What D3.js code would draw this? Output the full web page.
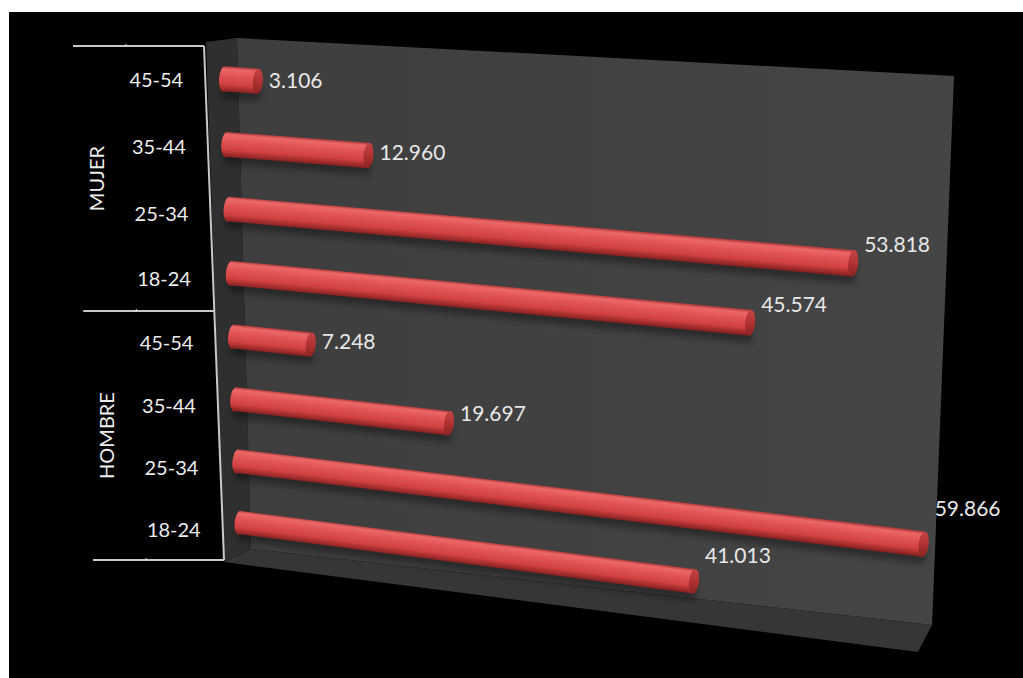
<!DOCTYPE html>
<html><head><meta charset="utf-8">
<script src="https://cdn.jsdelivr.net/npm/d3@7"></script>
<style>html,body{margin:0;padding:0;background:#fff;overflow:hidden}text{font-family:Lato,"Open Sans",sans-serif}</style>
</head><body><svg id="c"></svg>
<script>
// ---- data ----
const groups = ["MUJER", "HOMBRE"];
const ageGroups = ["45-54", "35-44", "25-34", "18-24"];
const mujerValues = [3106, 12960, 53818, 45574];
const hombreValues = [7248, 19697, 59866, 41013];
const valueMax = 60000;

// ---- layout ----
const W = 1023, H = 678;
const svg = d3.select("#c").attr("width", W).attr("height", H);
const defs = svg.append("defs");

const rows = [];
groups.forEach((g, gi) => {
  const vals = gi === 0 ? mujerValues : hombreValues;
  ageGroups.forEach((a, ai) => rows.push({ group: g, age: a, value: vals[ai], key: g + "|" + a }));
});

const fmt = d3.formatLocale({ decimal: ",", thousands: ".", grouping: [3], currency: ["", "€"] }).format(",d");

const xScale = d3.scaleLinear().domain([0, valueMax]).range([0, 1]);
const vBand = d3.scaleBand().domain(rows.map(d => d.key)).range([0, 1]);

function homography(p) {
  const [x0, y0] = p[0], [x1, y1] = p[1], [x2, y2] = p[2], [x3, y3] = p[3];
  const dx1 = x1 - x2, dx2 = x3 - x2, dx3 = x0 - x1 + x2 - x3;
  const dy1 = y1 - y2, dy2 = y3 - y2, dy3 = y0 - y1 + y2 - y3;
  const den = dx1 * dy2 - dx2 * dy1;
  const g = (dx3 * dy2 - dx2 * dy3) / den, h = (dx1 * dy3 - dx3 * dy1) / den;
  const a = x1 - x0 + g * x1, b = x3 - x0 + h * x3, c = x0;
  const d = y1 - y0 + g * y1, e = y3 - y0 + h * y3, f = y0;
  return (u, v) => { const w = g * u + h * v + 1; return [(a * u + b * v + c) / w, (d * u + e * v + f) / w]; };
}

const plotQuad = [[223, 46], [936, 92], [923, 644], [241, 553]];
const P = homography(plotQuad);
const labelQuad = [[223, 46], [936, 80], [923, 603], [241, 553]];
const PL = homography(labelQuad);

// background
svg.append("rect").attr("x", 9).attr("y", 12).attr("width", W - 9).attr("height", H - 12).attr("fill", "#000");

// panel
const poly = pts => "M" + pts.map(p => p.join(",")).join("L") + "Z";
const faceGrad = defs.append("linearGradient").attr("id", "face").attr("x1", 0).attr("x2", 1).attr("y1", 0).attr("y2", 0);
faceGrad.append("stop").attr("offset", "0%").attr("stop-color", "#3e3e3e");
faceGrad.append("stop").attr("offset", "100%").attr("stop-color", "#454545");
svg.append("path").attr("d", poly([[206, 42], [237, 38], [251, 549], [224, 562]])).attr("fill", "#2f2f2f");
svg.append("path").attr("d", poly([[237, 38], [954, 76], [932, 625], [251, 549]])).attr("fill", "url(#face)");
svg.append("path").attr("d", poly([[224, 562], [251, 549], [932, 625], [918, 652]])).attr("fill", "#363636");

// shadow filter
const flt = defs.append("filter").attr("id", "blur").attr("x", "-10%").attr("y", "-50%").attr("width", "120%").attr("height", "200%");
flt.append("feGaussianBlur").attr("stdDeviation", 3);

// ---- bars ----
const rv = 0.024, capRx = 5;
const gBars = svg.append("g");
rows.forEach((d, i) => {
  const vc = vBand(d.key) + vBand.bandwidth() / 2;
  const u1 = xScale(d.value);
  const S = P(0, vc), E = P(u1, vc);
  const St = P(0, vc - rv), Sb = P(0, vc + rv), Et = P(u1, vc - rv), Eb = P(u1, vc + rv);
  const dist = (a, b) => Math.hypot(a[0] - b[0], a[1] - b[1]);
  const t0 = dist(St, Sb), t1 = dist(Et, Eb);
  const ang = Math.atan2(E[1] - S[1], E[0] - S[0]);
  const deg = ang * 180 / Math.PI;
  const n = [-Math.sin(ang), Math.cos(ang)];
  const M = P(u1 / 2, vc), tm = (t0 + t1) / 2;
  const gid = "bg" + i;
  const lg = defs.append("linearGradient").attr("id", gid).attr("gradientUnits", "userSpaceOnUse")
    .attr("x1", M[0] - n[0] * tm / 2).attr("y1", M[1] - n[1] * tm / 2)
    .attr("x2", M[0] + n[0] * tm / 2).attr("y2", M[1] + n[1] * tm / 2);
  [["0%", "#b43a3a"], ["12%", "#ec6868"], ["35%", "#e25555"], ["70%", "#d24141"], ["100%", "#852020"]]
    .forEach(s => lg.append("stop").attr("offset", s[0]).attr("stop-color", s[1]));
  const cg = defs.append("linearGradient").attr("id", "cg" + i).attr("gradientUnits", "userSpaceOnUse")
    .attr("x1", Et[0]).attr("y1", Et[1]).attr("x2", Eb[0]).attr("y2", Eb[1]);
  [["0%", "#c24444"], ["50%", "#b03232"], ["100%", "#8a2323"]]
    .forEach(s => cg.append("stop").attr("offset", s[0]).attr("stop-color", s[1]));

  const body = `M${St}L${Et}L${Eb}L${Sb}A${capRx},${t0 / 2} ${deg} 0 1 ${St}Z`;
  gBars.append("path").attr("d", body).attr("fill", "#000").attr("opacity", 0.35)
    .attr("transform", "translate(2,7)").attr("filter", "url(#blur)");
  gBars.append("path").attr("d", body).attr("fill", `url(#${gid})`);
  gBars.append("ellipse").attr("cx", E[0]).attr("cy", E[1]).attr("rx", capRx).attr("ry", t1 / 2)
    .attr("transform", `rotate(${deg},${E[0]},${E[1]})`).attr("fill", `url(#cg${i})`);

  const L = PL(u1, vc);
  gBars.append("text").attr("x", E[0] + capRx + 6).attr("y", L[1]).attr("dy", "0.35em")
    .attr("fill", "#e8e8e8").attr("font-size", 21).text(fmt(d.value));
});

// ---- category axis (bracket) ----
const axTop = 46, axMid = 311, axBot = 560;
// 1D projective map of v in [0,1] through the three bracket lines
function projY(v) {
  const y1 = axMid, y2 = axBot, b = axTop;
  const k = (2 * y1 - y2 - b) / (y2 - y1);
  const a = y2 * (k + 1) - b;
  return (a * v + b) / (k * v + 1);
}
const axX0 = 204, axX1 = 224;
const axisX = y => axX0 + (y - axTop) / (axBot - axTop) * (axX1 - axX0);

const gAx = svg.append("g").attr("stroke", "#c8c8c8").attr("stroke-width", 2).attr("fill", "none");
gAx.append("line").attr("x1", axX0).attr("y1", axTop).attr("x2", axX1).attr("y2", axBot);
[0, 0.5, 1].forEach(v => {
  const y = projY(v), x = axisX(y);
  gAx.append("line").attr("x1", x - 131).attr("y1", y).attr("x2", x).attr("y2", y);
  gAx.append("line").attr("x1", x - 78).attr("y1", y - 2).attr("x2", x - 78).attr("y2", y + 1)
    .attr("stroke-width", 1).attr("stroke", "#e0e0e0");
});

rows.forEach(d => {
  const v = vBand(d.key) + vBand.bandwidth() / 2;
  const y = projY(v);
  svg.append("text").attr("x", axisX(y) - 49).attr("y", y).attr("dy", "0.35em")
    .attr("text-anchor", "middle").attr("fill", "#ececec").attr("font-size", 20).text(d.age);
});
groups.forEach((g, gi) => {
  const y = (projY(gi * 0.5) + projY(gi * 0.5 + 0.5)) / 2;
  const x = axisX(y) - 112;
  svg.append("text").attr("transform", `translate(${x},${y}) rotate(-90)`).attr("dy", "0.35em")
    .attr("text-anchor", "middle").attr("fill", "#ececec").attr("font-size", 20).text(g);
});
</script></body></html>
